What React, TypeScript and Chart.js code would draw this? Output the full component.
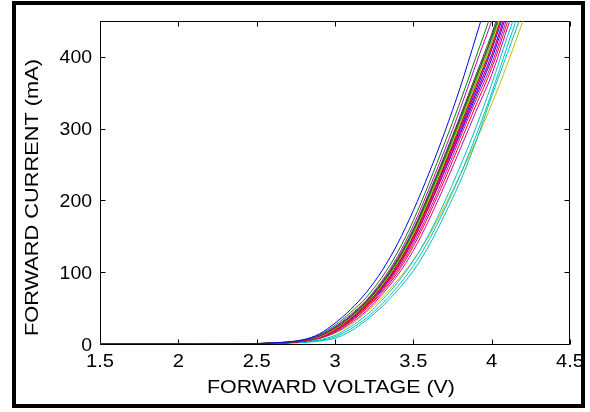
import React, { useEffect, useRef } from "react";
import { Chart, registerables } from "chart.js";

Chart.register(...registerables);

// Forward voltage sample points (V)
const VOLTAGES = [1.5, 2.0, 2.4, 2.6, 2.8, 2.9, 3.0, 3.1, 3.2, 3.3, 3.4, 3.5, 3.6, 3.7, 3.8, 3.9, 4.0, 4.1, 4.2, 4.3];

// Forward current per LED sample (mA)
const LED_01 = [0, 0, 0.3, 1.5, 6, 14, 29, 48, 72, 102, 140, 186, 238, 295, 358, 428, 500, 570, 640, 700];
const LED_02 = [0, 0, 0.3, 1.4, 6, 13, 26, 44, 65, 93, 128, 172, 224, 280, 338, 400, 462, 530, 600, 660];
const LED_03 = [0, 0, 0.3, 1.3, 5, 12, 24, 41, 61, 88, 122, 165, 216, 270, 328, 390, 450, 515, 585, 650];
const LED_04 = [0, 0, 0.2, 1.2, 5, 11, 23, 39, 60, 86, 119, 160, 210, 263, 318, 375, 432, 495, 560, 620];
const LED_05 = [0, 0, 0.2, 1.2, 5, 11, 22, 38, 58, 84, 116, 157, 206, 259, 314, 370, 426, 490, 555, 615];
const LED_06 = [0, 0, 0.2, 1.1, 5, 10, 21, 37, 57, 82, 114, 154, 202, 254, 308, 364, 420, 485, 550, 610];
const LED_07 = [0, 0, 0.2, 1.2, 5, 11, 22, 38, 58, 83, 115, 155, 203, 255, 310, 365, 421, 486, 550, 610];
const LED_08 = [0, 0, 0.2, 1.1, 4, 10, 20, 35, 55, 80, 110, 149, 197, 249, 303, 358, 414, 480, 545, 605];
const LED_09 = [0, 0, 0.2, 1.1, 4, 10, 21, 36, 56, 81, 112, 151, 199, 251, 305, 360, 415, 480, 545, 605];
const LED_10 = [0, 0, 0.2, 1.0, 4, 9, 19, 34, 53, 78, 108, 146, 193, 244, 297, 350, 403, 468, 535, 595];
const LED_11 = [0, 0, 0.2, 1.0, 4, 9, 19, 33, 52, 76, 106, 144, 191, 242, 295, 349, 402, 467, 533, 595];
const LED_12 = [0, 0, 0.2, 1.0, 4, 9, 19, 34, 53, 77, 107, 145, 191, 241, 293, 345, 397, 462, 528, 590];
const LED_13 = [0, 0, 0.2, 1.0, 4, 9, 18, 32, 50, 74, 103, 140, 185, 235, 288, 340, 390, 455, 520, 585];
const LED_14 = [0, 0, 0.2, 0.9, 4, 8, 17, 31, 49, 72, 100, 136, 180, 229, 281, 333, 384, 448, 515, 580];
const LED_15 = [0, 0, 0.1, 0.7, 3, 6, 12, 24, 40, 61, 86, 116, 153, 198, 248, 302, 362, 428, 490, 550];
const LED_16 = [0, 0, 0.2, 0.9, 4, 8, 16, 29, 46, 69, 96, 130, 173, 221, 272, 324, 375, 440, 505, 570];
const LED_17 = [0, 0, 0.1, 0.6, 3, 5, 10, 21, 36, 56, 80, 109, 145, 188, 236, 290, 350, 415, 478, 540];
const LED_18 = [0, 0, 0.1, 0.5, 2, 4, 8, 18, 33, 52, 75, 102, 137, 180, 227, 282, 345, 405, 465, 530];
const LED_19 = [0, 0, 0.1, 0.8, 4, 8, 15, 27, 44, 65, 89, 117, 151, 192, 236, 283, 334, 390, 450, 510];
const LED_20 = [0, 0, 0.2, 1.2, 5, 11, 22, 39, 59, 85, 117, 158, 208, 260, 315, 371, 428, 492, 556, 616];
const LED_21 = [0, 0, 0.2, 1.1, 4, 10, 20, 35, 55, 79, 110, 149, 196, 247, 300, 354, 410, 474, 540, 600];

// MATLAB classic line colour order
const LINE_COLORS = ["#0000FF", "#008000", "#BF00BF", "#404040", "#008000", "#BFBF00", "#008000", "#FF0000", "#404040", "#BF00BF", "#FF0000", "#0000FF", "#BF00BF", "#FF0000", "#00BFBF", "#BF00BF", "#00BFBF", "#00BFBF", "#BFBF00", "#404040", "#0000FF"];
const SERIES = [LED_01, LED_02, LED_03, LED_04, LED_05, LED_06, LED_07, LED_08, LED_09, LED_10, LED_11, LED_12, LED_13, LED_14, LED_15, LED_16, LED_17, LED_18, LED_19, LED_20, LED_21];

const X_TICKS = [1.5, 2, 2.5, 3, 3.5, 4, 4.5];
const Y_TICKS = [0, 100, 200, 300, 400];
const X_TICK_LABELS = ["1.5", "2", "2.5", "3", "3.5", "4", "4.5"];
const Y_TICK_LABELS = ["0", "100", "200", "300", "400"];
const X_MIN = 1.5;
const X_MAX = 4.5;
const Y_MIN = 0;
const Y_MAX = 450;
const X_TITLE = "FORWARD VOLTAGE (V)";
const Y_TITLE = "FORWARD CURRENT (mA)";

const FONT_FAMILY = '"Liberation Sans", Arial, Helvetica, sans-serif';

function stretchedText(ctx: any, text: string, x: number, y: number, sx: number, rot: number) {
  ctx.save();
  ctx.translate(x, y);
  if (rot) ctx.rotate(rot);
  ctx.scale(sx, 1);
  ctx.fillText(text, 0, 0);
  ctx.restore();
}

const axesBoxPlugin = {
  id: "axesBox",
  beforeDatasetsDraw(chart: any) {
    const { ctx, chartArea, scales } = chart;
    const l = Math.round(chartArea.left) + 0.5;
    const r = Math.round(chartArea.right) - 0.5;
    const t = Math.round(chartArea.top) + 0.5;
    const b = Math.round(chartArea.bottom) + 0.5;
    const tl = 5;
    ctx.save();
    ctx.strokeStyle = "#000";
    ctx.lineWidth = 1;
    ctx.beginPath();
    ctx.rect(l, t, r - l, b - t);
    for (const v of X_TICKS) {
      const px = Math.round(scales.x.getPixelForValue(v)) + 0.5;
      ctx.moveTo(px, b);
      ctx.lineTo(px, b - tl);
      ctx.moveTo(px, t);
      ctx.lineTo(px, t + tl);
    }
    for (const v of Y_TICKS) {
      const py = Math.round(scales.y.getPixelForValue(v)) + 0.5;
      ctx.moveTo(l, py);
      ctx.lineTo(l + tl, py);
      ctx.moveTo(r, py);
      ctx.lineTo(r - tl, py);
    }
    ctx.stroke();
    ctx.restore();
  },
  afterDraw(chart: any) {
    const { ctx, chartArea, scales } = chart;
    ctx.save();
    ctx.fillStyle = "#000";
    ctx.font = "18px " + FONT_FAMILY;
    ctx.textBaseline = "alphabetic";

    // tick labels
    ctx.textAlign = "center";
    X_TICKS.forEach((v, i) => {
      const px = scales.x.getPixelForValue(v);
      stretchedText(ctx, X_TICK_LABELS[i], px, chartArea.bottom + 23, 1.12, 0);
    });
    ctx.textAlign = "right";
    Y_TICKS.forEach((v, i) => {
      const py = scales.y.getPixelForValue(v);
      stretchedText(ctx, Y_TICK_LABELS[i], chartArea.left - 8, py + 6.5, 1.08, 0);
    });

    // axis titles
    ctx.textAlign = "center";
    stretchedText(ctx, X_TITLE, (chartArea.left + chartArea.right) / 2 - 4, chartArea.bottom + 49, 1.19, 0);
    stretchedText(ctx, Y_TITLE, chartArea.left - 62, (chartArea.top + chartArea.bottom) / 2 + 15, 1.21, -Math.PI / 2);
    ctx.restore();
  },
};

export default function App() {
  const canvasRef = useRef<HTMLCanvasElement | null>(null);

  useEffect(() => {
    const canvas = canvasRef.current;
    if (!canvas) return;
    const datasets = SERIES.map((vals, i) => ({
      label: "LED " + (i + 1),
      data: VOLTAGES.map((v, j) => ({ x: v, y: vals[j] })),
      borderColor: LINE_COLORS[i % LINE_COLORS.length],
      backgroundColor: LINE_COLORS[i % LINE_COLORS.length],
      borderWidth: 1,
      pointRadius: 0,
      fill: false,
      cubicInterpolationMode: "monotone" as const,
    }));
    const chart = new Chart(canvas, {
      type: "line",
      data: { datasets },
      options: {
        responsive: false,
        animation: false,
        events: [],
        layout: { padding: { top: 21, right: 20, left: 0, bottom: 0 } },
        plugins: {
          legend: { display: false },
          tooltip: { enabled: false },
        },
        scales: {
          x: {
            type: "linear",
            min: X_MIN,
            max: X_MAX,
            grid: { display: false, drawTicks: false },
            border: { display: false },
            afterBuildTicks: (scale: any) => {
              scale.ticks = X_TICKS.map((v) => ({ value: v }));
            },
            afterFit: (scale: any) => {
              scale.height = 68;
            },
            ticks: { display: false },
          },
          y: {
            type: "linear",
            min: Y_MIN,
            max: Y_MAX,
            grid: { display: false, drawTicks: false },
            border: { display: false },
            afterBuildTicks: (scale: any) => {
              scale.ticks = Y_TICKS.map((v) => ({ value: v }));
            },
            afterFit: (scale: any) => {
              scale.width = 100;
            },
            ticks: { display: false },
          },
        },
      },
      plugins: [axesBoxPlugin],
    });
    return () => chart.destroy();
  }, []);

  return (
    <div style={{ position: "fixed", left: 0, top: 0, width: 590, height: 412, background: "#fff", overflow: "hidden" }}>
      <canvas ref={canvasRef} width={590} height={412} style={{ position: "absolute", left: 0, top: 0, width: 590, height: 412 }} />
      <div
        style={{
          position: "absolute",
          left: 12,
          top: 1,
          width: 573,
          height: 407,
          border: "4px solid #000",
          boxSizing: "border-box",
          pointerEvents: "none",
        }}
      />
    </div>
  );
}
